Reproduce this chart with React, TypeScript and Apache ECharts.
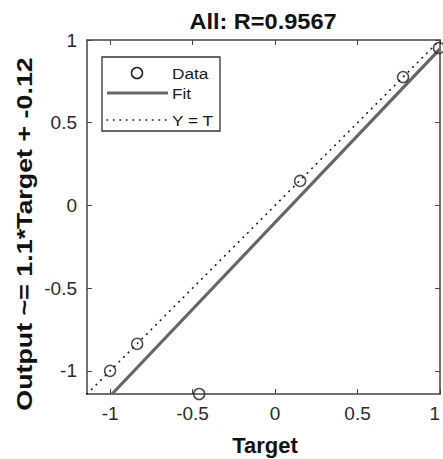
import React, { useEffect, useRef } from "react";
import * as echarts from "echarts";

const titleText = "All: R=0.9567";
const xLabel = "Target";
const yLabel = "Output ~= 1.1*Target + -0.12";
const tickValues = [-1, -0.5, 0, 0.5, 1];
const axisMin = -1.14;
const axisMax = 1;
const dataX = [-1, -0.836, -0.46, 0.152, 0.776, 0.994];
const dataY = [-1, -0.837, -1.14, 0.148, 0.776, 0.952];
const fitX = [-0.988, 1];
const fitY = [-1.14, 0.946];
const ytX = [-1.14, 1];
const ytY = [-1.14, 1];
const legendNames = ["Data", "Fit", "Y = T"];

const FONT = "'Liberation Sans', Arial, Helvetica, sans-serif";

export default function App() {
  const ref = useRef<HTMLDivElement>(null);
  useEffect(() => {
    document.body.style.margin = "0";
    const chart = echarts.init(ref.current!, null, { renderer: "svg" });
    const baseAxis = {
      type: "value" as const,
      min: axisMin,
      max: axisMax,
      splitLine: { show: false },
      axisLine: { show: true, onZero: false, lineStyle: { color: "#454545", width: 1.5 } },
      axisTick: {
        show: true,
        inside: true,
        length: 5,
        customValues: tickValues,
        lineStyle: { color: "#454545", width: 1 },
      },
    };
    const labelStyle = {
      fontFamily: FONT,
      fontSize: 19,
      color: "#2a2a2a",
      customValues: tickValues,
      formatter: (v: number) => String(v),
    };
    chart.setOption({
      animation: false,
      backgroundColor: "#ffffff",
      grid: {
        left: 87,
        top: 40,
        right: 3,
        bottom: 65,
        containLabel: false,
        outerBoundsMode: "none",
      },
      xAxis: [
        {
          ...baseAxis,
          position: "bottom",
          axisLabel: { ...labelStyle, margin: 10, alignMaxLabel: "right" },
        },
        { ...baseAxis, position: "top", axisLabel: { show: false } },
      ],
      yAxis: [
        { ...baseAxis, position: "left", axisLabel: { ...labelStyle, margin: 10 } },
        { ...baseAxis, position: "right", axisLabel: { show: false } },
      ],
      series: [
        {
          name: legendNames[2],
          type: "line",
          data: ytX.map((x, i) => [x, ytY[i]]),
          symbol: "none",
          lineStyle: { color: "#111", width: 1.6, type: [0.5, 6], cap: "round" },
          z: 2,
        },
        {
          name: legendNames[1],
          type: "line",
          data: fitX.map((x, i) => [x, fitY[i]]),
          symbol: "none",
          lineStyle: { color: "#666", width: 3.2 },
          z: 3,
        },
        {
          name: legendNames[0],
          type: "scatter",
          data: dataX.map((x, i) => [x, dataY[i]]),
          symbol: "circle",
          symbolSize: 11,
          clip: false,
          itemStyle: { color: "rgba(0,0,0,0)", borderColor: "#222", borderWidth: 1.5 },
          z: 4,
        },
      ],
      graphic: [
        {
          type: "text",
          x: 263,
          y: 21,
          scaleX: 1.07,
          style: {
            text: titleText,
            fontFamily: FONT,
            fontSize: 22,
            fontWeight: "bold",
            fill: "#111",
            align: "center",
            verticalAlign: "middle",
          },
        },
        {
          type: "text",
          x: 265,
          y: 445,
          style: {
            text: xLabel,
            fontFamily: FONT,
            fontSize: 22,
            fontWeight: "bold",
            fill: "#111",
            align: "center",
            verticalAlign: "middle",
          },
        },
        {
          type: "text",
          x: 24,
          y: 234,
          rotation: Math.PI / 2,
          scaleX: 1.22,
          style: {
            text: yLabel,
            fontFamily: FONT,
            fontSize: 22,
            fontWeight: "bold",
            fill: "#111",
            align: "center",
            verticalAlign: "middle",
          },
        },
        {
          type: "group",
          children: [
            {
              type: "rect",
              shape: { x: 102, y: 57, width: 118, height: 74 },
              style: { fill: "#fff", stroke: "#333", lineWidth: 1.3 },
            },
            {
              type: "circle",
              shape: { cx: 137, cy: 73, r: 5.5 },
              style: { fill: "none", stroke: "#222", lineWidth: 1.5 },
            },
            {
              type: "line",
              shape: { x1: 107, y1: 93, x2: 168, y2: 93 },
              style: { stroke: "#666", lineWidth: 3.2 },
            },
            {
              type: "line",
              shape: { x1: 107, y1: 120, x2: 168, y2: 120 },
              style: { stroke: "#111", lineWidth: 1.6, lineDash: [0.5, 6], lineCap: "round" },
            },
            ...legendNames.map((n, i) => ({
              type: "text",
              x: 172,
              y: [73, 93, 120][i],
              scaleX: 1.15,
              style: {
                text: n,
                fontFamily: FONT,
                fontSize: 15,
                fill: "#1a1a1a",
                align: "left",
                verticalAlign: "middle",
              },
            })),
          ],
        },
      ],
    });
    return () => chart.dispose();
  }, []);
  return (
    <div
      ref={ref}
      style={{ position: "absolute", left: 0, top: 0, width: 443, height: 459 }}
    />
  );
}
